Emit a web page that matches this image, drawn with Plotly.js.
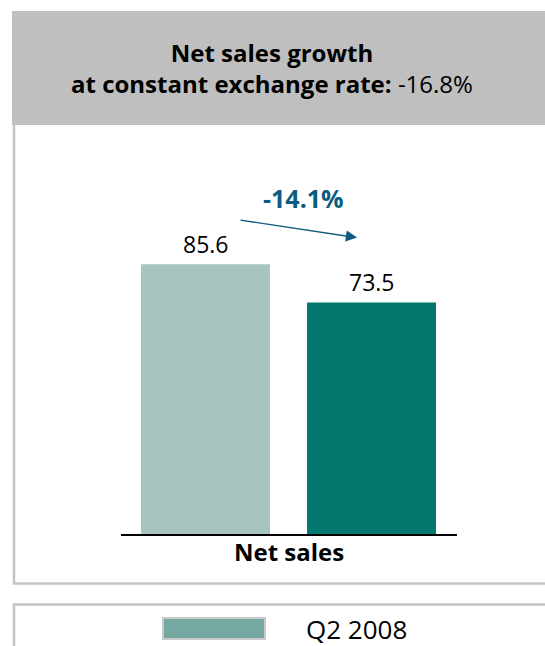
<!DOCTYPE html>
<html>
<head>
<meta charset="utf-8">
<script src="https://cdn.plot.ly/plotly-3.0.1.min.js"></script>
<style>html,body{margin:0;padding:0;background:#fff;}#chart{width:545px;height:646px;}</style>
</head>
<body>
<div id="chart"></div>
<script>
// Data
const periods = ['Q2 2008', 'Q2 2009'];
const netSales = [85.6, 73.5];
const barColors = ['#a7c4c1', '#03786f'];
const changeLabel = '-14.1%';
const categoryLabel = 'Net sales';
const titleLine1 = 'Net sales growth';
const titleLine2Bold = 'at constant exchange rate:';
const titleLine2Value = '-16.8%';
const legendLabel = 'Q2 2008';

const FONT = 'Open Sans, DejaVu Sans, sans-serif';
const xIdx = periods.map((p, i) => i);

// pixel -> paper helpers (plot area: x 121..457, y 125..535)
const L = 121, R = 457, T = 125, B = 535;
const px = x => (x - L) / (R - L);
const py = y => (B - y) / (B - T);

const trace = {
  type: 'bar',
  x: xIdx,
  y: netSales,
  width: 0.777,
  marker: {color: barColors, line: {width: 0}},
  hoverinfo: 'skip',
  showlegend: false
};

const annotations = [];
netSales.forEach((v, i) => {
  annotations.push({
    x: xIdx[i], y: v, xref: 'x', yref: 'y',
    text: v.toFixed(1), showarrow: false,
    yanchor: 'middle', yshift: 20,
    font: {family: FONT, size: 23, color: '#000'}
  });
});
// change arrow
annotations.push({
  x: 0.913, y: 94.0, xref: 'x', yref: 'y',
  ax: 0.202, ay: 99.6, axref: 'x', ayref: 'y',
  text: '', showarrow: true, arrowhead: 2, arrowsize: 1.6, arrowwidth: 1.4,
  arrowcolor: '#0b5d7f', standoff: 0
});
annotations.push({
  x: px(303), y: py(198), xref: 'paper', yref: 'paper',
  text: '<b>' + changeLabel + '</b>', showarrow: false,
  xanchor: 'center', yanchor: 'middle',
  font: {family: FONT, size: 25, color: '#0b5d7f'}
});
// category label
annotations.push({
  x: px(289), y: py(551), xref: 'paper', yref: 'paper',
  text: '<b>' + categoryLabel + '</b>', showarrow: false,
  xanchor: 'center', yanchor: 'middle',
  font: {family: FONT, size: 24, color: '#000'}
});
// title (two lines)
annotations.push({
  x: px(272), y: py(68), xref: 'paper', yref: 'paper',
  text: '<b>' + titleLine1 + '</b><br><b>' + titleLine2Bold + '</b> ' + titleLine2Value,
  showarrow: false, align: 'center',
  xanchor: 'center', yanchor: 'middle',
  font: {family: FONT, size: 24, color: '#000'}
});
// legend text
annotations.push({
  x: px(304), y: py(629), xref: 'paper', yref: 'paper',
  text: legendLabel, showarrow: false,
  xanchor: 'left', yanchor: 'middle',
  font: {family: FONT, size: 26, color: '#000'}
});

const shapes = [
  // header band
  {type: 'rect', xref: 'paper', yref: 'paper', x0: px(12), x1: px(546), y0: py(125), y1: py(11),
   fillcolor: '#bfbfbf', line: {width: 0}, layer: 'below'},
  // panel border left
  {type: 'line', xref: 'paper', yref: 'paper', x0: px(14), x1: px(14), y0: py(125), y1: py(584),
   line: {color: '#c4c4c4', width: 2.5}},
  // panel border bottom
  {type: 'line', xref: 'paper', yref: 'paper', x0: px(12.8), x1: px(546), y0: py(583.5), y1: py(583.5),
   line: {color: '#c4c4c4', width: 2.5}},
  // legend box top
  {type: 'line', xref: 'paper', yref: 'paper', x0: px(12.8), x1: px(546), y0: py(604.5), y1: py(604.5),
   line: {color: '#c4c4c4', width: 2.5}},
  // legend box left
  {type: 'line', xref: 'paper', yref: 'paper', x0: px(14), x1: px(14), y0: py(604), y1: py(650),
   line: {color: '#c4c4c4', width: 2.5}},
  // legend swatch
  {type: 'rect', xref: 'paper', yref: 'paper', x0: px(163), x1: px(265), y0: py(639), y1: py(618),
   fillcolor: '#76a8a2', line: {color: '#c9c9c9', width: 2}},
  // baseline
  {type: 'line', xref: 'paper', yref: 'paper', x0: 0, x1: 1, y0: 0, y1: 0,
   line: {color: '#000', width: 2}}
];

const layout = {
  width: 545, height: 646,
  margin: {l: L, r: 545 - R, t: T, b: 646 - B, pad: 0},
  paper_bgcolor: '#fff', plot_bgcolor: 'rgba(0,0,0,0)',
  showlegend: false,
  xaxis: {range: [-0.509, 1.515], showticklabels: false, showgrid: false, zeroline: false,
          showline: false, ticks: '', fixedrange: true},
  yaxis: {range: [0, 129.6], visible: false, showgrid: false, zeroline: false, fixedrange: true},
  annotations: annotations,
  shapes: shapes,
  font: {family: FONT}
};

Plotly.newPlot('chart', [trace], layout, {displayModeBar: false, staticPlot: true});
</script>
</body>
</html>
